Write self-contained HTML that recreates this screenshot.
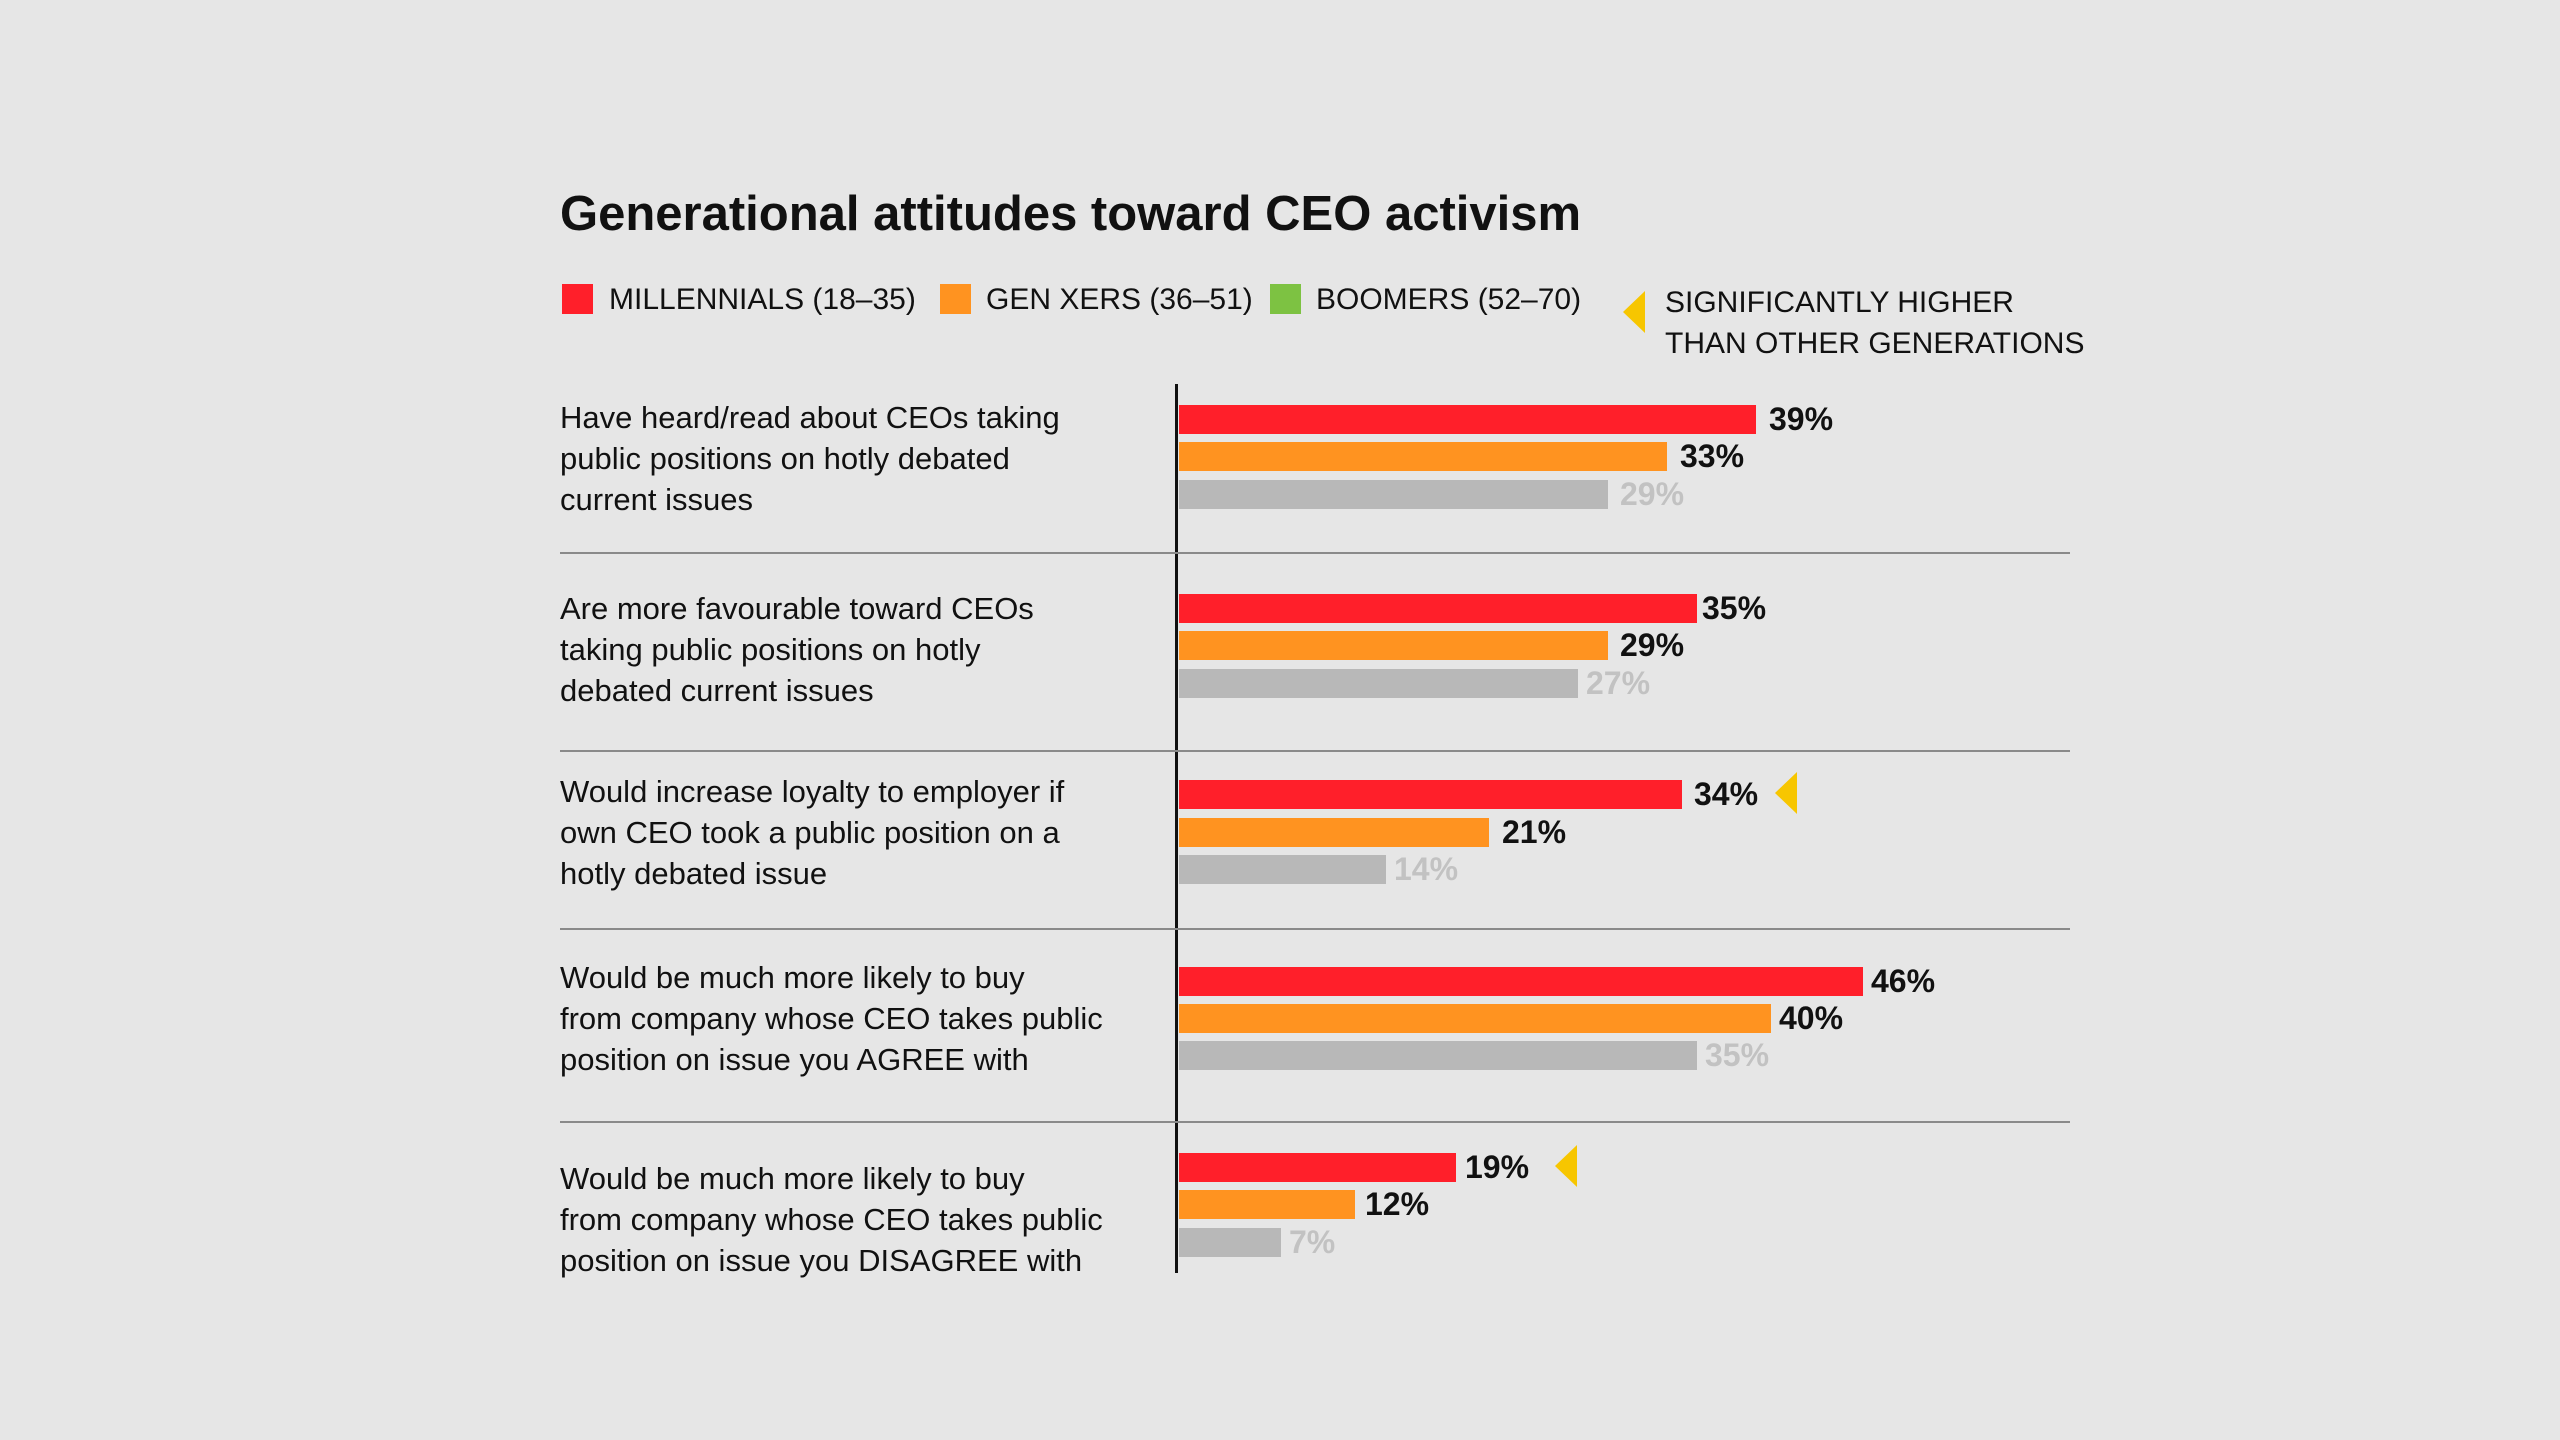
<!DOCTYPE html>
<html><head><meta charset="utf-8"><style>
body{margin:0;width:2560px;height:1440px;background:#e6e6e6;font-family:"Liberation Sans",sans-serif;position:relative;overflow:hidden}
div{position:absolute}
.t{white-space:nowrap;color:#111}
.lg{font-size:30px;line-height:29px}
.lab{font-size:31px;line-height:41px;left:560px;width:620px;color:#111}
.bar{left:1179px;height:29px}
.r{background:#ff1f2a}.o{background:#ff9320}.g{background:#b8b8b8}
.v{font-size:32px;font-weight:bold;line-height:29px;color:#111}
.vg{color:#c2c2c2}
.sep{left:560px;width:1510px;height:2px;background:#8a8a8a}
.tri{width:0;height:0;border-top:21px solid transparent;border-bottom:21px solid transparent;border-right:22px solid #f7c600}
</style></head><body>
<div class="t" style="left:560px;top:186px;font-size:49px;font-weight:bold;line-height:56px">Generational attitudes toward CEO activism</div>

<div style="left:562px;top:284px;width:31px;height:30px;background:#ff1f2a"></div>
<div class="t lg" style="left:609px;top:285px">MILLENNIALS (18–35)</div>
<div style="left:940px;top:284px;width:31px;height:30px;background:#ff9320"></div>
<div class="t lg" style="left:986px;top:285px">GEN XERS (36–51)</div>
<div style="left:1270px;top:284px;width:31px;height:30px;background:#7dc242"></div>
<div class="t lg" style="left:1316px;top:285px">BOOMERS (52–70)</div>
<div class="tri" style="left:1623px;top:291px"></div>
<div class="t lg" style="left:1665px;top:282px;line-height:41px">SIGNIFICANTLY HIGHER<br>THAN OTHER GENERATIONS</div>

<div style="left:1175px;top:384px;width:3px;height:889px;background:#111"></div>
<div class="sep" style="top:552px"></div>
<div class="sep" style="top:750px"></div>
<div class="sep" style="top:928px"></div>
<div class="sep" style="top:1121px"></div>

<div class="lab" style="top:397px">Have heard/read about CEOs taking<br>public positions on hotly debated<br>current issues</div>
<div class="lab" style="top:588px">Are more favourable toward CEOs<br>taking public positions on hotly<br>debated current issues</div>
<div class="lab" style="top:771px">Would increase loyalty to employer if<br>own CEO took a public position on a<br>hotly debated issue</div>
<div class="lab" style="top:957px">Would be much more likely to buy<br>from company whose CEO takes public<br>position on issue you AGREE with</div>
<div class="lab" style="top:1158px">Would be much more likely to buy<br>from company whose CEO takes public<br>position on issue you DISAGREE with</div>

<!-- g1 -->
<div class="bar r" style="top:405px;width:577px"></div><div class="t v" style="left:1769px;top:405px">39%</div>
<div class="bar o" style="top:442px;width:488px"></div><div class="t v" style="left:1680px;top:442px">33%</div>
<div class="bar g" style="top:480px;width:429px"></div><div class="t v vg" style="left:1620px;top:480px">29%</div>
<!-- g2 -->
<div class="bar r" style="top:594px;width:518px"></div><div class="t v" style="left:1702px;top:594px">35%</div>
<div class="bar o" style="top:631px;width:429px"></div><div class="t v" style="left:1620px;top:631px">29%</div>
<div class="bar g" style="top:669px;width:399px"></div><div class="t v vg" style="left:1586px;top:669px">27%</div>
<!-- g3 -->
<div class="bar r" style="top:780px;width:503px"></div><div class="t v" style="left:1694px;top:780px">34%</div>
<div class="tri" style="left:1775px;top:772px"></div>
<div class="bar o" style="top:818px;width:310px"></div><div class="t v" style="left:1502px;top:818px">21%</div>
<div class="bar g" style="top:855px;width:207px"></div><div class="t v vg" style="left:1394px;top:855px">14%</div>
<!-- g4 -->
<div class="bar r" style="top:967px;width:684px"></div><div class="t v" style="left:1871px;top:967px">46%</div>
<div class="bar o" style="top:1004px;width:592px"></div><div class="t v" style="left:1779px;top:1004px">40%</div>
<div class="bar g" style="top:1041px;width:518px"></div><div class="t v vg" style="left:1705px;top:1041px">35%</div>
<!-- g5 -->
<div class="bar r" style="top:1153px;width:277px"></div><div class="t v" style="left:1465px;top:1153px">19%</div>
<div class="tri" style="left:1555px;top:1145px"></div>
<div class="bar o" style="top:1190px;width:176px"></div><div class="t v" style="left:1365px;top:1190px">12%</div>
<div class="bar g" style="top:1228px;width:102px"></div><div class="t v vg" style="left:1289px;top:1228px">7%</div>
</body></html>
